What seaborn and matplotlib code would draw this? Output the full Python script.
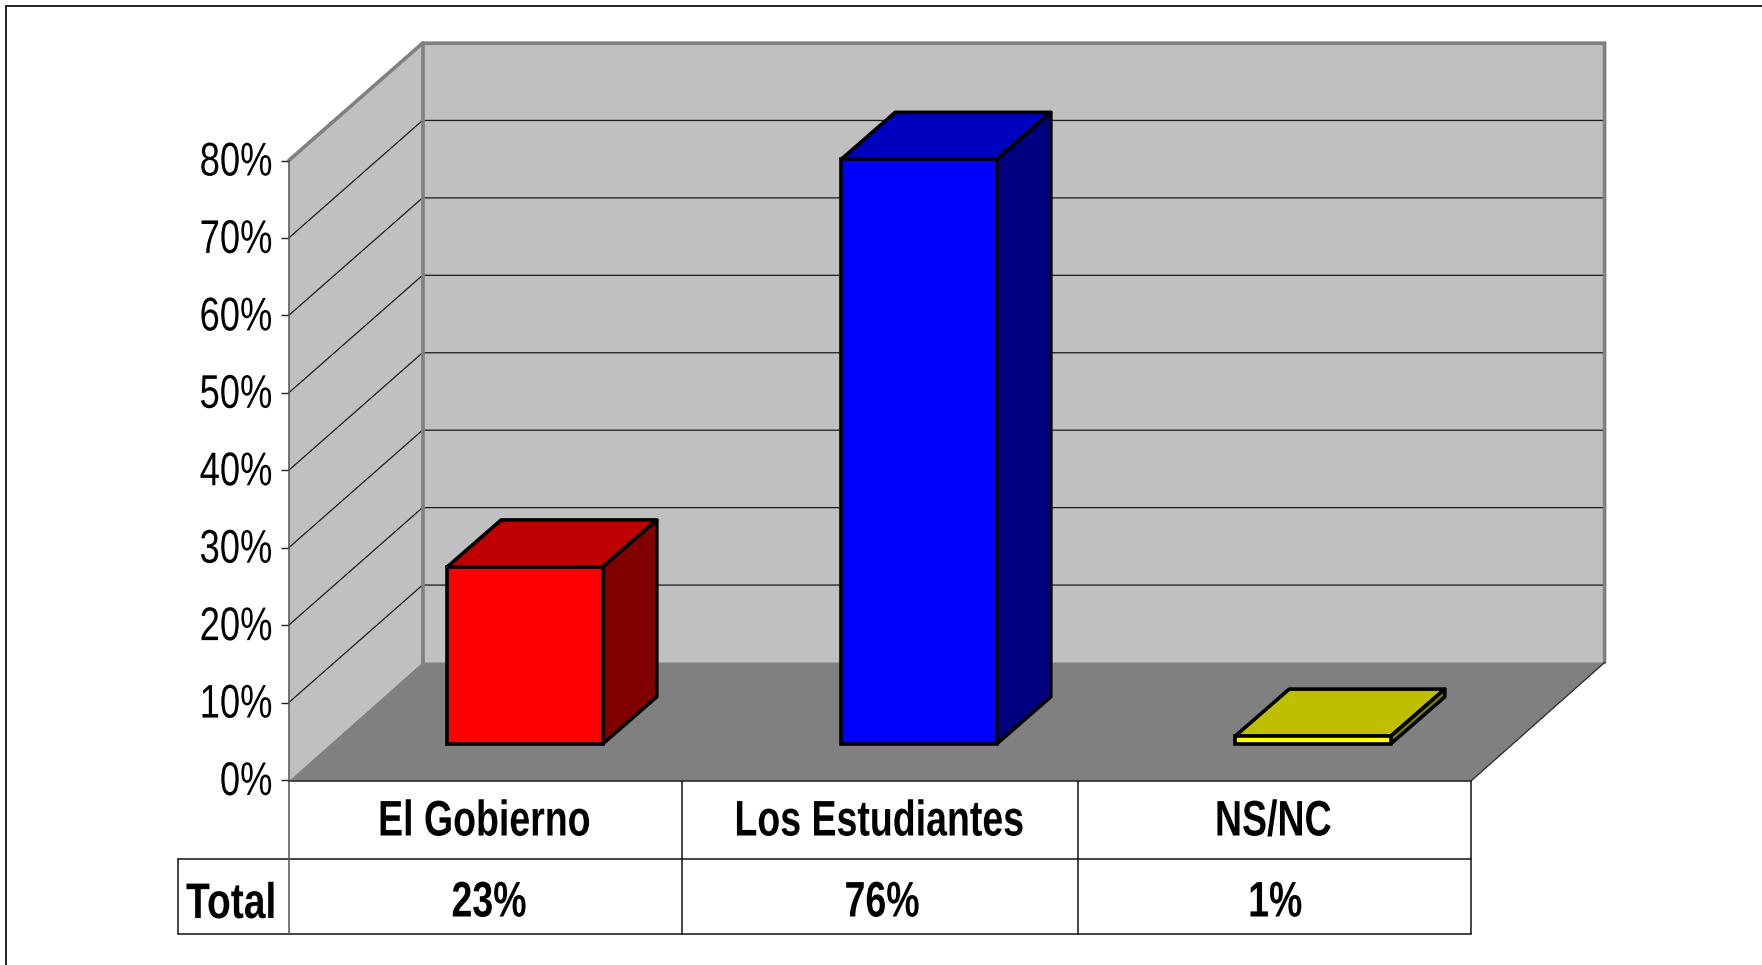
import matplotlib
matplotlib.use('Agg')
import matplotlib.pyplot as plt
import seaborn as sns
import pandas as pd
from matplotlib.colors import to_rgb
from matplotlib.patches import Polygon
from matplotlib.patheffects import AbstractPathEffect
from matplotlib.ticker import PercentFormatter
from matplotlib.transforms import Affine2D

# data
categories = ['El Gobierno', 'Los Estudiantes', 'NS/NC']
totals = [23, 76, 1]
bar_colors = ['#ff0000', '#0000ff', '#ffff00']
y_ticks = [0, 10, 20, 30, 40, 50, 60, 70, 80]
row_label = 'Total'

W, H = 1762, 965
sns.set_theme(style='white')
plt.rcParams['font.family'] = ['Liberation Sans', 'DejaVu Sans']
plt.rcParams['axes.unicode_minus'] = False

fig = plt.figure(figsize=(W / 100, H / 100), dpi=100, facecolor='white')


class Squeeze(AbstractPathEffect):
    # the reference text is narrow, so squash glyphs sideways around their anchor
    def __init__(self, sx, anchor='center', lift=0):
        super().__init__()
        self.sx = sx
        self.anchor = anchor
        self.lift = lift

    def draw_path(self, renderer, gc, tpath, affine, rgbFace=None):
        box = tpath.get_extents(affine)
        cx = box.x1 if self.anchor == 'right' else (box.x0 + box.x1) / 2
        squeezed = affine + Affine2D().translate(-cx, 0).scale(self.sx, 1).translate(cx, self.lift)
        renderer.draw_path(gc, tpath, squeezed, rgbFace)


def axes_px(left, top, right, bottom, z):
    # axes placed by pixel box
    return fig.add_axes([left / W, 1 - bottom / H, (right - left) / W, (bottom - top) / H], zorder=z)


# background layer in pixels: walls, floor, table
bg = axes_px(0, 0, W, H, 1)
bg.set_xlim(0, W)
bg.set_ylim(H, 0)
bg.axis('off')

fx, fb, ft = 288.8, 780.0, 160.5      # front of the left wall
bx, bb, bt = 422.5, 662.5, 43.2       # back of the left wall
brx, frx = 1604.6, 1471.0             # right end back / front of the floor
dy_w = fb - bb

bg.add_patch(Polygon([(fx, fb + 1), (fx, ft), (bx, bt), (bx, bb)], fc='#c0c0c0', ec='none'))
bg.add_patch(Polygon([(bx, bb), (bx, bt), (brx, bt), (brx, bb)], fc='#c0c0c0', ec='none'))
bg.add_patch(Polygon([(fx, fb + 1), (bx, bb), (brx, bb), (frx, fb + 1)], fc='#808080', ec='none'))

px_per_pct = (fb - ft) / 80
for t in y_ticks[1:-1]:
    y = fb - t * px_per_pct
    bg.plot([fx, bx, brx], [y, y - dy_w, y - dy_w], color='#1a1a1a', lw=0.9, solid_joinstyle='miter')
bg.plot([fx, bx, brx, brx], [ft, bt, bt, bb], color='#808080', lw=2.6, solid_joinstyle='miter')
bg.plot([bx, bx], [bt, bb], color='#808080', lw=2.6)
bg.plot([frx, brx], [fb + 1, bb], color='#333333', lw=1)

# outer frame, only top and left are visible
bg.plot([5.6, 5.6], [H, 6], color='#222222', lw=1.4)
bg.plot([5.6, W], [6, 6], color='#222222', lw=1.4)

# data table
tx = [288.8, 682, 1077.6, 1471]
ty = [fb + 1, 859, 933.5]
for x in tx[1:]:
    bg.plot([x, x], [ty[0], ty[2]], color='#111111', lw=1.1)
bg.plot([177.5, 1471], [ty[1], ty[1]], color='#111111', lw=1.1)
bg.plot([177.5, 1471], [ty[2], ty[2]], color='#111111', lw=1.1)
bg.plot([177.5, 177.5], [ty[1], ty[2]], color='#111111', lw=1.1)
bg.plot([fx, fx], [fb, ty[2]], color='#555555', lw=1.1)
bg.plot([fx, frx], [fb + 1, fb + 1], color='#222222', lw=1.1)

label_x = [484.3, 879, 1273]
value_x = [489, 882, 1275]
for name, val, lx, vx in zip(categories, totals, label_x, value_x):
    bg.text(lx, 822.5, name, ha='center', va='center', fontsize=36, fontweight='bold', color='black',
            path_effects=[Squeeze(0.75)])
    bg.text(vx, 903.5, f'{val}%', ha='center', va='center', fontsize=36, fontweight='bold', color='black',
            path_effects=[Squeeze(0.75)])
bg.text(231.5, 905, row_label, ha='center', va='center', fontsize=36, fontweight='bold', color='black',
        path_effects=[Squeeze(0.78)])

# real y axis on the front of the wall
ax_y = axes_px(fx, ft, fx + 10, fb, 2)
ax_y.patch.set_alpha(0)
ax_y.set_ylim(0, 80)
ax_y.set_xticks([])
ax_y.set_yticks(y_ticks)
ax_y.yaxis.set_major_formatter(PercentFormatter(decimals=0))
ax_y.tick_params(axis='y', left=True, length=5.5, width=1, color='#222222', pad=6,
                 labelsize=34, labelcolor='black')
for lab in ax_y.get_yticklabels():
    lab.set_path_effects([Squeeze(0.77, anchor='right', lift=2)])
for side in ['top', 'right', 'bottom']:
    ax_y.spines[side].set_visible(False)
ax_y.spines['left'].set_color('#555555')
ax_y.spines['left'].set_linewidth(1.1)

# bars: front faces from seaborn, tops and sides built from the patches
base_y = 743.8
scale = 7.69
top_px = base_y - 80 * scale
ax = axes_px(328, top_px, 1510, base_y, 3)
ax.patch.set_alpha(0)
df = pd.DataFrame({'category': categories, 'total': totals})
sns.barplot(data=df, x='category', y='total', hue='category', palette=bar_colors, legend=False,
            width=0.395, saturation=1, edgecolor='black', linewidth=2.6, ax=ax, zorder=4)
ax.set_xlim(-0.5, 2.5)
ax.set_ylim(0, 80)
ax.axis('off')

dx = 54 / 394
dy = 47 / scale
for patch, col in zip(ax.patches, bar_colors):
    x0, w, h = patch.get_x(), patch.get_width(), patch.get_height()
    rgb = to_rgb(col)
    top_col = tuple(c * 0.75 for c in rgb)
    side_col = tuple(c * 0.5 for c in rgb)
    x1 = x0 + w
    ax.add_patch(Polygon([(x0, h), (x0 + dx, h + dy), (x1 + dx, h + dy), (x1, h)], fc=top_col, ec='black',
                         lw=2.6, joinstyle='round', clip_on=False, zorder=3))
    ax.add_patch(Polygon([(x1, 0), (x1 + dx, dy), (x1 + dx, h + dy), (x1, h)], fc=side_col, ec='black',
                         lw=2.6, joinstyle='round', clip_on=False, zorder=3))
    patch.set_clip_on(False)

fig.savefig('out.png', dpi=100)
